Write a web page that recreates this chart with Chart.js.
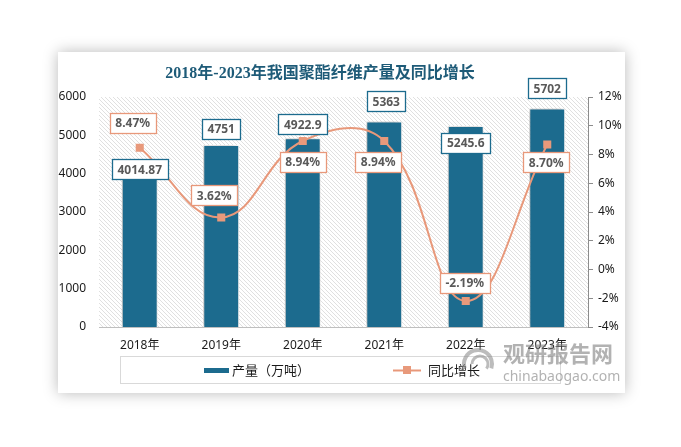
<!DOCTYPE html>
<html><head><meta charset="utf-8">
<script src="https://cdn.jsdelivr.net/npm/chart.js@4/dist/chart.umd.min.js"></script>
<style>html,body{margin:0;padding:0;background:#fff;overflow:hidden}#wrap{width:681px;height:447px;position:relative}</style>
</head><body><div id="wrap"><canvas id="c" width="681" height="447"></canvas></div>
<script>
// ---- data ----
const categories = ['2018年', '2019年', '2020年', '2021年', '2022年', '2023年'];
const production = [4014.87, 4751, 4922.9, 5363, 5245.6, 5702];
const productionLabels = ['4014.87', '4751', '4922.9', '5363', '5245.6', '5702'];
const growth = [8.47, 3.62, 8.94, 8.94, -2.19, 8.70];
const growthLabels = ['8.47%', '3.62%', '8.94%', '8.94%', '-2.19%', '8.70%'];
const leftTicks = [0, 1000, 2000, 3000, 4000, 5000, 6000];
const rightTicks = [-4, -2, 0, 2, 4, 6, 8, 10, 12];
const titleText = '2018年-2023年我国聚酯纤维产量及同比增长';
const seriesNames = ['产量（万吨）', '同比增长'];

// ---- styles ----
const BAR = '#1c6b8e';
const LINE = '#e8987a';
const barLabelOffset = [[0, -4], [0, -16], [0, -14], [2, -20], [0, 17], [0, -20]];
const lineLabelOffset = [[-7, -25], [-7, -22], [0, 21], [-6, 21], [-1, -18], [-1, 18]];

const patCanvas = document.createElement('canvas');
patCanvas.width = 4; patCanvas.height = 4;
const pctx = patCanvas.getContext('2d');
pctx.fillStyle = '#ffffff'; pctx.fillRect(0, 0, 4, 4);
pctx.fillStyle = '#e0e0e0';
for (let i = 0; i < 4; i++) pctx.fillRect(i, i, 1, 1);

function box(ctx, text, cx, cy, border) {
  ctx.font = 'bold 12px "Noto Sans", "Open Sans", sans-serif';
  const w = Math.round(ctx.measureText(text).width + 11);
  const h = 20;
  const x = Math.round(cx - w / 2) + 0.5, y = Math.round(cy - h / 2) + 0.5;
  ctx.fillStyle = '#ffffff';
  ctx.fillRect(x, y, w, h);
  ctx.strokeStyle = border; ctx.lineWidth = 1.3;
  ctx.strokeRect(x, y, w, h);
  ctx.fillStyle = '#595959';
  ctx.textAlign = 'center'; ctx.textBaseline = 'middle';
  ctx.fillText(text, cx, cy + 1);
}

const decor = {
  id: 'decor',
  beforeDraw(chart) {
    const ctx = chart.ctx;
    ctx.save();
    ctx.fillStyle = '#ffffff';
    ctx.fillRect(0, 0, chart.width, chart.height);
    ctx.shadowColor = 'rgba(0,0,0,0.28)';
    ctx.shadowBlur = 14;
    ctx.fillRect(58, 52, 567, 341);
    ctx.restore();
    const a = chart.chartArea;
    ctx.save();
    ctx.fillStyle = ctx.createPattern(patCanvas, 'repeat');
    ctx.fillRect(a.left, a.top, a.right - a.left, a.bottom - a.top);
    ctx.restore();
    // title
    ctx.save();
    ctx.font = 'bold 16px "Liberation Serif", "Noto Sans CJK SC", serif';
    ctx.fillStyle = '#1e5b78';
    ctx.textAlign = 'center'; ctx.textBaseline = 'middle';
    ctx.fillText(titleText, 320, 74);
    ctx.restore();
  },
  beforeDatasetDraw(chart, args) {
    if (args.index === 0) {
      const ctx = chart.ctx;
      ctx.save();
      ctx.shadowColor = 'rgba(0,0,0,0.3)';
      ctx.shadowBlur = 6;
      ctx.shadowOffsetX = -2;
    }
  },
  afterDatasetDraw(chart, args) {
    if (args.index === 0) chart.ctx.restore();
  },
  afterDraw(chart) {
    const ctx = chart.ctx;
    ctx.save();
    const m0 = chart.getDatasetMeta(0), m1 = chart.getDatasetMeta(1);
    m0.data.forEach((el, i) => {
      box(ctx, productionLabels[i], el.x + barLabelOffset[i][0], el.y + barLabelOffset[i][1], BAR);
    });
    m1.data.forEach((el, i) => {
      box(ctx, growthLabels[i], el.x + lineLabelOffset[i][0], el.y + lineLabelOffset[i][1], LINE);
    });
    // legend
    ctx.strokeStyle = '#d9d9d9'; ctx.lineWidth = 1;
    ctx.strokeRect(120.5, 356.5, 440, 27);
    ctx.fillStyle = BAR;
    ctx.fillRect(204, 368, 25, 5);
    ctx.font = '13px "Noto Sans CJK SC", sans-serif';
    ctx.fillStyle = '#1a1a1a';
    ctx.textAlign = 'left'; ctx.textBaseline = 'middle';
    ctx.fillText(seriesNames[0], 232, 370);
    ctx.strokeStyle = LINE; ctx.lineWidth = 2;
    ctx.beginPath(); ctx.moveTo(393, 370.5); ctx.lineTo(421, 370.5); ctx.stroke();
    ctx.fillStyle = '#e8997b';
    ctx.fillRect(403, 366, 8, 8);
    ctx.fillStyle = '#1a1a1a';
    ctx.fillText(seriesNames[1], 428, 370);
    // watermark
    ctx.globalAlpha = 0.6;
    ctx.strokeStyle = '#8f8f8f';
    ctx.lineWidth = 4;
    ctx.beginPath(); ctx.arc(478, 364, 14, Math.PI * 0.9, Math.PI * 2.1); ctx.stroke();
    ctx.lineWidth = 3;
    ctx.beginPath(); ctx.arc(480, 364, 8, Math.PI * 1.0, Math.PI * 2.2); ctx.stroke();
    ctx.fillStyle = '#7f7f7f';
    ctx.font = 'bold 22px "Noto Sans CJK SC", sans-serif';
    ctx.fillText('观研报告网', 503, 354);
    ctx.font = '14px "Noto Sans", sans-serif';
    ctx.fillText('chinabaogao.com', 503, 377);
    ctx.restore();
  }
};

const tickFont = { family: '"Noto Sans", "Noto Sans CJK SC", sans-serif', size: 12 };

new Chart(document.getElementById('c'), {
  data: {
    labels: categories,
    datasets: [
      {
        type: 'bar', label: seriesNames[0], data: production, yAxisID: 'y',
        backgroundColor: BAR, borderColor: '#ffffff', borderWidth: 1,
        categoryPercentage: 1, barPercentage: 0.44, order: 2
      },
      {
        type: 'line', label: seriesNames[1], data: growth, yAxisID: 'y1',
        borderColor: LINE, borderWidth: 2, tension: 0.42,
        pointStyle: 'rect', pointRadius: 5.7, pointBackgroundColor: '#e8997b',
        pointBorderColor: '#e8997b', pointBorderWidth: 0, order: 1
      }
    ]
  },
  options: {
    responsive: false, devicePixelRatio: 1, animation: false,
    layout: { padding: { top: 97, left: 0, right: 0, bottom: 0 } },
    plugins: { legend: { display: false }, title: { display: false }, tooltip: { enabled: false } },
    scales: {
      x: {
        grid: { display: false, drawTicks: false },
        border: { display: true, color: '#bfbfbf', width: 1 },
        ticks: { font: tickFont, color: '#1a1a1a', padding: 11 },
        afterFit(s) { s.height = 120; }
      },
      y: {
        position: 'left', min: 0, max: 6000,
        afterBuildTicks(s) { s.ticks = leftTicks.map(v => ({ value: v })); },
        grid: { display: false, drawTicks: false },
        border: { display: false },
        ticks: { font: tickFont, color: '#1a1a1a', padding: 13, callback: v => String(v) },
        afterFit(s) { s.width = 99; }
      },
      y1: {
        position: 'right', min: -4, max: 12,
        afterBuildTicks(s) { s.ticks = rightTicks.map(v => ({ value: v })); },
        grid: { drawOnChartArea: false, drawTicks: true, tickLength: 5, color: '#8c8c8c' },
        border: { display: true, color: '#8c8c8c' },
        ticks: { font: tickFont, color: '#1a1a1a', padding: 5, callback: v => v + '%' },
        afterFit(s) { s.width = 93; }
      }
    }
  },
  plugins: [decor]
});
</script></body></html>
